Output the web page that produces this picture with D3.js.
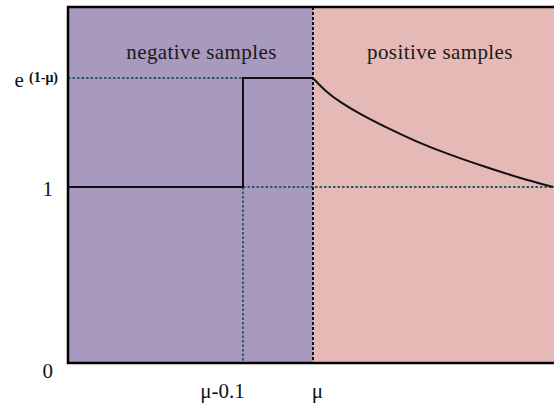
<!DOCTYPE html>
<html>
<head>
<meta charset="utf-8">
<script src="https://cdn.jsdelivr.net/npm/d3@7"></script>
<style>
  body { margin: 0; background: #fff; }
  svg { display: block; font-family: "Liberation Serif", "DejaVu Serif", serif; }
</style>
</head>
<body>
<svg id="chart" width="554" height="407"></svg>
<script>
// values (schematic units)
var mu = 0.502,
    muMinus = 0.3586,
    eMu = 1.619;

var xTickValues = [muMinus, mu, 1.0];
var xTickLabels = ["μ-0.1", "μ", "1"];
var yTickValues = [0, 1, eMu];
var yTickLabels = ["0", "1", "e"];

var regions = [
  {name: "negative samples", x0: 0, x1: mu, color: "#a899bf"},
  {name: "positive samples", x0: mu, x1: 1.2, color: "#e5b9b5"}
];

var stepPoints = [[0, 1], [muMinus, 1], [muMinus, eMu], [mu, eMu]];

var curvePoints = [
  [0.502, 1.619], [0.527, 1.546], [0.557, 1.483], [0.598, 1.415],
  [0.650, 1.341], [0.711, 1.261], [0.783, 1.182], [0.855, 1.114],
  [0.926, 1.051], [0.994, 1.0]
];

var svg = d3.select("#chart");
var margin = {top: 7, left: 68, bottom: 44};
var height = 407 - margin.top - margin.bottom;

var x = d3.scaleLinear().domain([0, 1]).range([0, 488]);
var y = d3.scaleLinear().domain([0, 2.023]).range([height, 0]);

var g = svg.append("g")
  .attr("transform", "translate(" + margin.left + "," + margin.top + ")");

// background regions
g.selectAll("rect.region")
  .data(regions)
  .enter().append("rect")
    .attr("class", "region")
    .attr("x", function(d) { return x(d.x0); })
    .attr("width", function(d) { return x(d.x1) - x(d.x0); })
    .attr("y", 0)
    .attr("height", height)
    .attr("fill", function(d) { return d.color; });

g.selectAll("text.region-label")
  .data(regions)
  .enter().append("text")
    .attr("class", "region-label")
    .attr("x", function(d, i) { return i == 0 ? (x(d.x0) + x(d.x1)) / 2 + 11 : x(d.x0) + 127; })
    .attr("y", 52)
    .attr("text-anchor", "middle")
    .attr("font-size", 21)
    .attr("letter-spacing", 0.4)
    .attr("fill", "#1a1a1a")
    .text(function(d) { return d.name; });

// guide lines
var guide = "#285d68";
g.append("line")
  .attr("x1", x(0)).attr("x2", x(mu))
  .attr("y1", y(eMu)).attr("y2", y(eMu))
  .attr("stroke", guide).attr("stroke-width", 2).attr("stroke-dasharray", "2.5,2");
g.append("line")
  .attr("x1", x(muMinus)).attr("x2", x(1.2))
  .attr("y1", y(1)).attr("y2", y(1))
  .attr("stroke", guide).attr("stroke-width", 2).attr("stroke-dasharray", "2.5,2");
g.append("line")
  .attr("x1", x(muMinus)).attr("x2", x(muMinus))
  .attr("y1", y(1)).attr("y2", y(0))
  .attr("stroke", guide).attr("stroke-width", 2).attr("stroke-dasharray", "2.5,2");
g.append("line")
  .attr("x1", x(mu)).attr("x2", x(mu))
  .attr("y1", y(2.023)).attr("y2", y(0))
  .attr("stroke", "#111").attr("stroke-width", 2).attr("stroke-dasharray", "3,2");

// weight function
var line = d3.line()
  .x(function(d) { return x(d[0]); })
  .y(function(d) { return y(d[1]); });

g.append("path")
  .datum(stepPoints)
  .attr("fill", "none")
  .attr("stroke", "#111")
  .attr("stroke-width", 2)
  .attr("d", line);

var smooth = d3.line()
  .x(function(d) { return x(d[0]); })
  .y(function(d) { return y(d[1]); })
  .curve(d3.curveBasis);

g.append("path")
  .datum(curvePoints)
  .attr("fill", "none")
  .attr("stroke", "#111")
  .attr("stroke-width", 2)
  .attr("d", smooth);

// frame
g.append("path")
  .attr("d", "M" + x(1.2) + "," + y(2.023) + "H" + x(0) + "V" + y(0) + "H" + x(1.2))
  .attr("fill", "none")
  .attr("stroke", "#000")
  .attr("stroke-width", 2.5);

// axes
var xOffsets = [-21, 4, 8];
var xAxis = d3.axisBottom(x)
  .tickValues(xTickValues)
  .tickSize(0)
  .tickFormat(function(d, i) { return xTickLabels[i]; });

var xg = g.append("g")
  .attr("transform", "translate(0," + height + ")")
  .call(xAxis);
xg.select(".domain").remove();
xg.selectAll("text")
  .attr("y", 35)
  .attr("dy", 0)
  .attr("dx", function(d, i) { return xOffsets[i]; })
  .attr("font-family", "Liberation Serif")
  .attr("font-size", 21)
  .attr("fill", "#111");

var yOffsets = [14, 8, 8];
var yAxis = d3.axisLeft(y)
  .tickValues(yTickValues)
  .tickSize(0)
  .tickPadding(15)
  .tickFormat(function(d, i) { return yTickLabels[i]; });

var yg = g.append("g").call(yAxis);
yg.select(".domain").remove();
yg.selectAll("text")
  .attr("dy", function(d, i) { return yOffsets[i]; })
  .attr("font-family", "Liberation Serif")
  .attr("font-size", 21)
  .attr("fill", "#111");

// e^(1-μ) label: add the exponent
yg.selectAll("text")
  .filter(function(d) { return d == eMu; })
  .attr("x", -10)
  .each(function() {
    d3.select(this).text(null);
    d3.select(this).append("tspan").text("e ");
    d3.select(this).append("tspan")
      .attr("font-size", 14)
      .attr("font-weight", "bold")
      .attr("dy", -5)
      .text("(1-μ)");
  });
</script>
</body>
</html>
